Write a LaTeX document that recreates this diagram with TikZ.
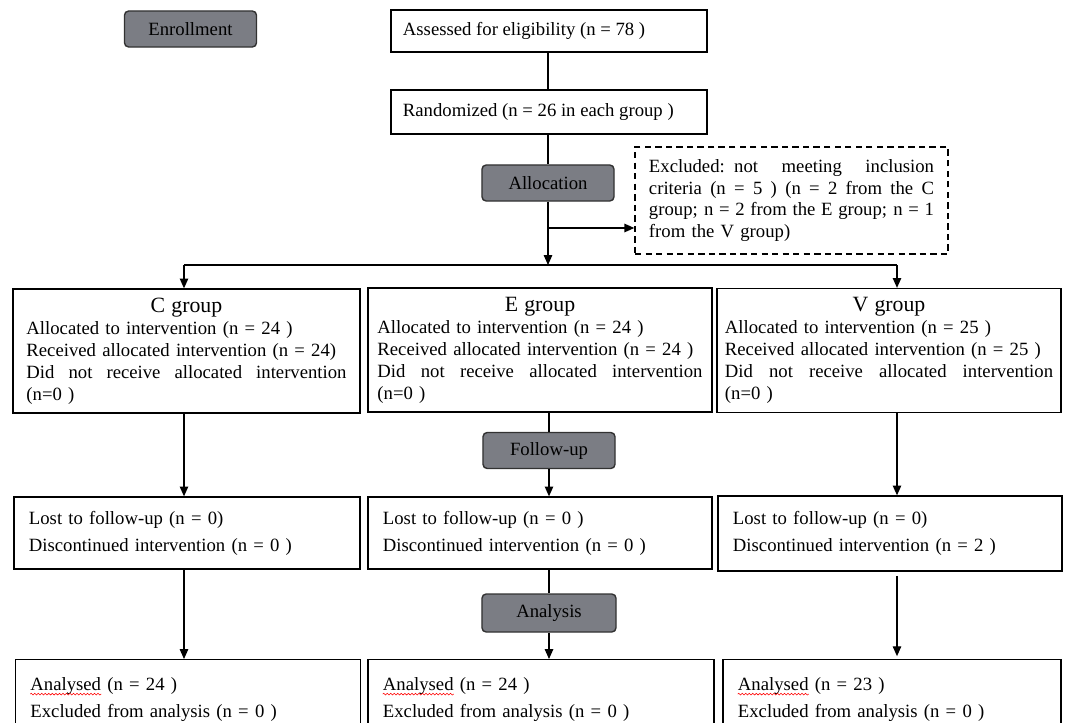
\documentclass[tikz,border=0pt]{standalone}
\usepackage{fontspec}
\setmainfont{Liberation Serif}
\usetikzlibrary{arrows.meta,decorations.pathmorphing}
\definecolor{stagegray}{RGB}{123,125,132}
\definecolor{stageline}{RGB}{50,50,50}
% red spell-check wave under a word
\newcommand\spellwave[1]{\tikz[baseline=(w.base)]{\node[inner sep=0pt, anchor=base] (w) {#1};
  \draw[overlay, red, line width=0.4pt, decorate, decoration={snake, amplitude=0.6pt, segment length=2.5pt}]
    ([yshift=-2.5pt]w.base west) -- ([yshift=-2.5pt]w.base east);}}
% one line spread over the full text width
\newcommand\spreadline[1]{\leavevmode\hbox to\linewidth{\spaceskip=\fontdimen2\font plus 1fil\relax#1}}
\begin{document}
\begin{tikzpicture}[x=0.025cm, y=-0.025cm, >={Triangle[length=7pt,width=6pt]},
  every node/.style={font=\fontsize{13.3}{15.6}\selectfont},
  stage/.style={draw=stageline, fill=stagegray, rounded corners=3pt, line width=1pt,
    minimum width=3.3cm, minimum height=0.9cm, inner sep=0pt},
  plain/.style={draw, line width=0.9pt, inner sep=0pt},
  group/.style={draw, line width=0.9pt, minimum height=3.1cm, inner xsep=0.3cm, align=left},
  follow/.style={draw, line width=0.9pt, minimum height=1.8cm, inner xsep=0.375cm,
    align=left, font=\fontsize{13.3}{19.2}\selectfont},
  result/.style={draw, line width=0.9pt, anchor=north, inner xsep=0.375cm, inner ysep=0.45cm,
    align=left, font=\fontsize{13.3}{19.2}\selectfont},
  line/.style={line width=0.9pt}]

  % page frame
  \useasboundingbox (0,0) rectangle (1065,723);
  \clip (0,0) rectangle (1065,723);

  % stage labels
  \node[stage] (enrol) at (190.5,29) {Enrollment};
  \node[stage] (alloc) at (548,183) {Allocation};
  \node[stage] (fup) at (549,450.5) {Follow-up};
  \node[stage, minimum width=3.35cm, minimum height=0.95cm] (anal) at (549,613) {Analysis};

  % enrollment
  \node[plain, minimum width=7.9cm, minimum height=1.05cm] (assess) at (549,31)
    {\makebox[7.3cm][l]{Assessed for eligibility (n = 78 )}};
  \node[plain, minimum width=7.9cm, minimum height=1.1cm] (rand) at (549,112)
    {\makebox[7.3cm][l]{Randomized (n = 26 in each group )}};
  \node[plain, dashed, dash pattern=on 4.5pt off 3pt, minimum width=7.825cm, minimum height=2.675cm,
    text width=7.125cm, align=left] (excl) at (791.5,200.5)
    {\spreadline{Excluded: not meeting inclusion}\\
     \spreadline{criteria (n = 5 ) (n = 2 from the C}\\
     \spreadline{group; n = 2 from the E group; n = 1}\\
     from the V group)};

  % allocation
  \node[group, minimum width=8.675cm, text width=8cm] (cgrp) at (186.5,351)
    {\makebox[\linewidth]{\fontsize{15.5}{15.6}\selectfont C group}\\
     Allocated to intervention (n = 24 )\\
     Received allocated intervention (n = 24)\\
     \spreadline{Did not receive allocated intervention}\\
     (n=0 )};
  \node[group, minimum width=8.6cm, text width=8.125cm, inner xsep=0.2cm] (egrp) at (540,350)
    {\makebox[\linewidth]{\fontsize{15.5}{15.6}\selectfont E group}\\
     Allocated to intervention (n = 24 )\\
     Received allocated intervention (n = 24 )\\
     \spreadline{Did not receive allocated intervention}\\
     (n=0 )};
  \node[group, minimum width=8.6cm, text width=8.2cm, inner xsep=0.2cm] (vgrp) at (889,350.5)
    {\makebox[\linewidth]{\fontsize{15.5}{15.6}\selectfont V group}\\
     Allocated to intervention (n = 25 )\\
     Received allocated intervention (n = 25 )\\
     \spreadline{Did not receive allocated intervention}\\
     (n=0 )};

  % follow-up
  \node[follow, text width=7.9cm] (clost) at (187,533)
    {Lost to follow-up (n = 0)\\Discontinued intervention (n = 0 )};
  \node[follow, text width=7.85cm] (elost) at (540,533)
    {Lost to follow-up (n = 0 )\\Discontinued intervention (n = 0 )};
  \node[follow, text width=7.85cm, minimum height=1.875cm] (vlost) at (890,533.5)
    {Lost to follow-up (n = 0)\\Discontinued intervention (n = 2 )};

  % analysis
  \node[result, text width=7.875cm] (cres) at (188,659)
    {\spellwave{Analysed} (n = 24 )\\Excluded from analysis (n = 0 )};
  \node[result, text width=7.9cm] (eres) at (541,659)
    {\spellwave{Analysed} (n = 24 )\\Excluded from analysis (n = 0 )};
  \node[result, text width=7.7cm] (vres) at (892,659)
    {\spellwave{Analysed} (n = 23 )\\Excluded from analysis (n = 0 )};

  % connectors
  \coordinate (branch) at (548,228);
  \coordinate (split) at (548,265);
  \coordinate (cx) at (184,265);
  \coordinate (vx) at (897,265);

  \draw[line] (assess.south -| alloc) -- (rand.north -| alloc);
  \draw[line] (rand.south -| alloc) -- (alloc.north);
  \draw[line, ->] (alloc.south) -- (split);
  \draw[line, ->] (branch) -- (branch -| excl.west);
  \draw[line] (cx) -- (vx);
  \draw[line, ->] (cx) -- (cx |- cgrp.north);
  \draw[line, ->] (vx) -- (vx |- vgrp.north);

  \draw[line, ->] (cgrp.south -| cx) -- (cx |- clost.north);
  \draw[line] (egrp.south -| fup) -- (fup.north);
  \draw[line, ->] (fup.south) -- (fup.south |- elost.north);
  \draw[line, ->] (vgrp.south -| vx) -- (vx |- vlost.north);

  \draw[line, ->] (clost.south -| cx) -- (cx |- cres.north);
  \draw[line] (elost.south -| anal) -- (anal.north);
  \draw[line, ->] (anal.south) -- (anal.south |- eres.north);
  \draw[line, ->, shorten <=3pt, shorten >=2pt] (vlost.south -| vx) -- (vx |- vres.north);

\end{tikzpicture}
\end{document}
